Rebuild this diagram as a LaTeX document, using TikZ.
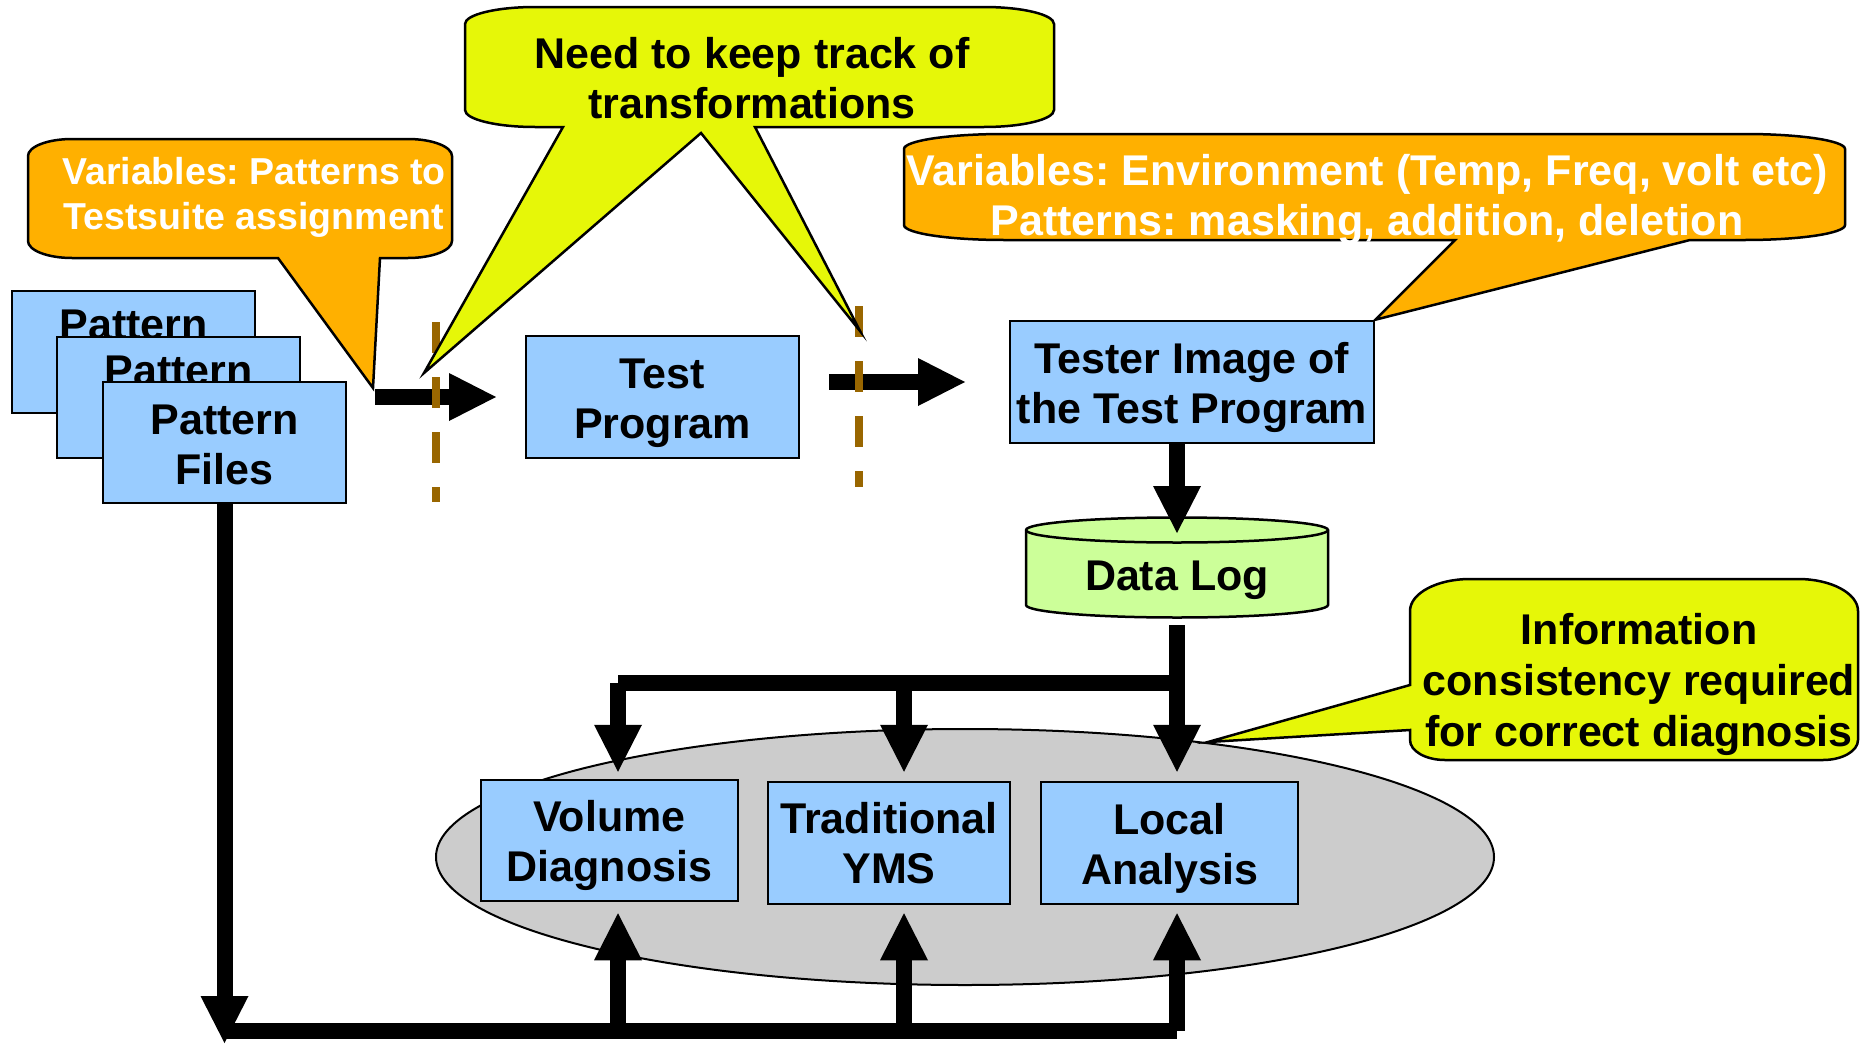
\documentclass[tikz,border=0pt]{standalone}
\usepackage{fontspec}
\setmainfont{Liberation Sans}
\usetikzlibrary{arrows.meta,shapes.geometric}
\frenchspacing

\definecolor{boxblue}{RGB}{153,204,255}
\definecolor{dlgreen}{RGB}{204,255,153}
\definecolor{orng}{RGB}{255,176,0}
\definecolor{ylw}{RGB}{230,247,8}
\definecolor{ovalgray}{RGB}{204,204,204}
\definecolor{cutbrown}{RGB}{153,102,0}

\tikzset{
  box/.style={draw=black, line width=2.5pt, fill=boxblue, inner sep=0pt},
  lbl/.style={align=center, inner sep=0pt, font=\fontsize{43}{50}\selectfont\bfseries},
  blk/.style={line width=16pt,
    -{Triangle[length=47pt,width=48pt,line width=0pt]}},
  bar/.style={line width=16pt},
  cut/.style={draw=cutbrown, line width=8pt, dash pattern=on 31pt off 24pt},
  callout/.style={draw=black, line width=2.5pt, line join=miter},
}

\begin{document}
\begin{tikzpicture}[x=1pt,y=1pt]
\useasboundingbox (0,0) rectangle (1872,-1044);

% group oval behind the analysis tools
\node[ellipse, draw=black, line width=2pt, fill=ovalgray,
  minimum width=1058pt, minimum height=256pt, inner sep=0pt] (grp) at (965,-857) {};

% stacked pattern files
\node[box, minimum width=243pt, minimum height=122pt] (pf1) at (133.5,-352) {};
\node[lbl] (pf1t) at (133.5,-325) {Pattern};
\node[box, minimum width=243pt, minimum height=121pt] (pf2) at (178.5,-397.5) {};
\node[lbl] (pf2t) at (178.5,-370.5) {Pattern};
\node[box, minimum width=243pt, minimum height=121pt] (pf3) at (224.5,-442.5) {};
\node[lbl] (pf3t) at ([yshift=-2.5pt]pf3.center) {Pattern\\Files};

% program boxes
\node[box, minimum width=273pt, minimum height=122pt] (tp) at (662.5,-397) {};
\node[lbl] (tpt) at ([yshift=-6pt]tp.center) {Test\\Program};
\node[box, minimum width=364pt, minimum height=122pt] (ti) at (1192,-382) {};
\node[lbl] (tit) at ([yshift=-5pt]ti.center) {Tester Image of\\the Test Program};

% analysis tools
\node[box, minimum width=257pt, minimum height=121pt] (vd) at (609.5,-840.5) {};
\node[lbl] (vdt) at ([yshift=-5pt]vd.center) {Volume\\Diagnosis};
\node[box, minimum width=242pt, minimum height=122pt] (ty) at (889,-843) {};
\node[lbl] (tyt) at (ty.center) {Traditional\\YMS};
\node[box, minimum width=257pt, minimum height=122pt] (la) at (1169.5,-843) {};
\node[lbl] (lat) at ([yshift=-5pt]la.center) {Local\\Analysis};

% data log cylinder
\filldraw[fill=dlgreen, line width=2.5pt] (1026,-530) -- (1026,-605)
  arc[start angle=180, end angle=360, x radius=151, y radius=12.5] -- (1328,-530)
  arc[start angle=0, end angle=180, x radius=151, y radius=12.5] -- cycle;
\draw[line width=2.5pt] (1026,-530) arc[start angle=180, end angle=360, x radius=151, y radius=12.5];
\node[lbl] (dl) at (1177,-580) {Data Log};

% connector end points
\coordinate (a1s) at (375,-397);
\coordinate (a1e) at (496,-397);
\coordinate (a2s) at (829,-382);
\coordinate (a2e) at (965,-382);
\coordinate (dltop) at (1177,-533);
\coordinate (dlbot) at (1177,-625);
\coordinate (busL) at (618,-683);
\coordinate (busM) at (904,-683);
\coordinate (busR) at (1177,-683);
\coordinate (botL) at (224.5,-1031);
\coordinate (botA) at (618,-1031);
\coordinate (botB) at (904,-1031);
\coordinate (botC) at (1177,-1031);
\coordinate (pfend) at (224.5,-1043);

% flow arrows
\draw[blk] (a1s) -- (a1e);
\draw[blk] (a2s) -- (a2e);
\draw[blk] (ti.south -| dltop) -- (dltop);

% distribution from the data log
\draw[bar] (busL) -- (busR);
\draw[blk] (dlbot) -- ([yshift=9pt]busR |- la.north);
\draw[blk] (busL) -- ([yshift=7pt]busL |- vd.north);
\draw[blk] (busM) -- ([yshift=9pt]busM |- ty.north);

% pattern files feed back to the tools
\draw[blk] (pf3.south) -- (pfend);
\draw[bar] (botL) -- (botC);
\draw[blk] (botA) -- ([yshift=-11pt]botA |- vd.south);
\draw[blk] (botB) -- ([yshift=-8pt]botB |- ty.south);
\draw[blk] (botC) -- ([yshift=-8pt]botC |- la.south);

% transformation boundaries
\draw[cut] (436,-322) -- (436,-502);
\draw[cut] (859,-306) -- (859,-487);

% callout: pattern assignment
\filldraw[callout, fill=orng] (28,-156)
  arc[start angle=180, end angle=90, x radius=44, y radius=17] -- (408,-139)
  arc[start angle=90, end angle=0, x radius=44, y radius=17] -- (452,-241)
  arc[start angle=0, end angle=-90, x radius=44, y radius=17] -- (380,-258)
  -- (373,-388) -- (278,-258) -- (72,-258)
  arc[start angle=-90, end angle=-180, x radius=44, y radius=17] -- cycle;
\node[align=center, inner sep=0pt, text=white,
  font=\fontsize{37.5}{45}\selectfont\bfseries] (c1) at (254,-197)
  {Variables: Patterns to\\Testsuite assignment};

% callout: transformations
\filldraw[callout, fill=ylw] (465,-24)
  arc[start angle=180, end angle=90, x radius=70, y radius=17] -- (984,-7)
  arc[start angle=90, end angle=0, x radius=70, y radius=17] -- (1054,-110)
  arc[start angle=0, end angle=-90, x radius=70, y radius=17] -- (755,-127)
  -- (860,-331) -- (701,-133) -- (424,-373) -- (563,-127) -- (535,-127)
  arc[start angle=-90, end angle=-180, x radius=70, y radius=17] -- cycle;
\node[lbl] (c2) at (752,-78) {Need to keep track of\\transformations};

% callout: environment variables
\filldraw[callout, fill=orng] (904,-149)
  arc[start angle=180, end angle=90, x radius=100, y radius=15] -- (1745,-134)
  arc[start angle=90, end angle=0, x radius=100, y radius=15] -- (1845,-225)
  arc[start angle=0, end angle=-90, x radius=100, y radius=15] -- (1690,-240)
  -- (ti.north east) -- (1455,-240) -- (1004,-240)
  arc[start angle=-90, end angle=-180, x radius=100, y radius=15] -- cycle;
\node[lbl, text=white] (c3) at (1367,-199)
  {Variables: Environment (Temp, Freq, volt etc)\\Patterns: masking, addition, deletion};

% callout: consistency
\filldraw[callout, fill=ylw] (1410,-730) -- (1410,-740)
  arc[start angle=180, end angle=270, x radius=35, y radius=20] -- (1823,-760)
  arc[start angle=270, end angle=360, x radius=35, y radius=20] -- (1858,-611)
  arc[start angle=0, end angle=90, x radius=60, y radius=32] -- (1470,-579)
  arc[start angle=90, end angle=180, x radius=60, y radius=32] -- (1410,-685)
  -- (1208,-742) -- cycle;
\node[align=center, inner sep=0pt, font=\fontsize{43}{51}\selectfont\bfseries] (c4) at (1639,-684.5)
  {Information\\consistency required\\for correct diagnosis};
\end{tikzpicture}
\end{document}
